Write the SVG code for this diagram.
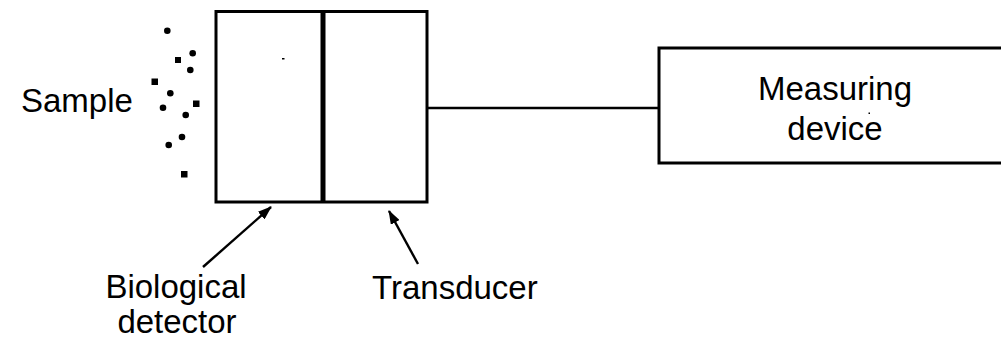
<svg xmlns="http://www.w3.org/2000/svg" width="1001" height="343" viewBox="0 0 1001 343">
<style>
.box{fill:none;stroke:#000;stroke-width:3}
.ln{fill:none;stroke:#000;stroke-width:2.4}
.t{font-family:"Liberation Sans",Arial,sans-serif;font-size:33px;fill:#000}
.dot{fill:#000}
</style>
<defs>
<marker id="ah" markerUnits="userSpaceOnUse" markerWidth="14" markerHeight="10" refX="13" refY="5" orient="auto">
<path d="M0,0 L14,5 L0,10 z" fill="#000"/>
</marker>
</defs>
<rect width="1001" height="343" fill="#fff"/>
<g id="sample">
<text class="t" x="21" y="112">Sample</text>
<circle class="dot" cx="167.3" cy="30.7" r="3.3"/>
<circle class="dot" cx="192.7" cy="53.3" r="3.3"/>
<rect class="dot" x="175" y="57" width="6" height="6"/>
<circle class="dot" cx="190.3" cy="70" r="3.3"/>
<rect class="dot" x="151.5" y="78.5" width="6.5" height="6.5"/>
<circle class="dot" cx="170.3" cy="93.3" r="3.3"/>
<rect class="dot" x="193" y="100.5" width="6.5" height="6.5"/>
<circle class="dot" cx="163" cy="107.7" r="3.3"/>
<circle class="dot" cx="185.7" cy="115" r="3.3"/>
<circle class="dot" cx="182" cy="137" r="3.3"/>
<circle class="dot" cx="168.7" cy="145" r="3.3"/>
<rect class="dot" x="181" y="171" width="6.5" height="6.5"/>
</g>
<g id="sensor">
<rect class="box" x="216" y="11.5" width="211" height="190.5"/>
<line x1="323" y1="11" x2="323" y2="202" stroke="#000" stroke-width="5"/>
<rect x="282" y="58" width="2.5" height="1.5" fill="#000"/>
</g>
<g id="measuring-device">
<rect class="box" x="659" y="48" width="360" height="115"/>
<text class="t" x="835" y="100" text-anchor="middle">Measuring</text>
<text class="t" x="835" y="140" text-anchor="middle">device</text>
<rect x="868.5" y="112.5" width="1.5" height="1.5" fill="#000"/>
</g>
<g id="biological-detector-label">
<text class="t" x="176" y="298" text-anchor="middle">Biological</text>
<text class="t" x="177" y="333" text-anchor="middle">detector</text>
</g>
<g id="transducer-label">
<text class="t" x="372" y="299">Transducer</text>
</g>
<g id="connectors">
<line class="ln" x1="427" y1="108" x2="659" y2="108"/>
<line class="ln" x1="203" y1="267" x2="271" y2="207" marker-end="url(#ah)"/>
<line class="ln" x1="418" y1="264" x2="389" y2="211" marker-end="url(#ah)"/>
</g>
</svg>
